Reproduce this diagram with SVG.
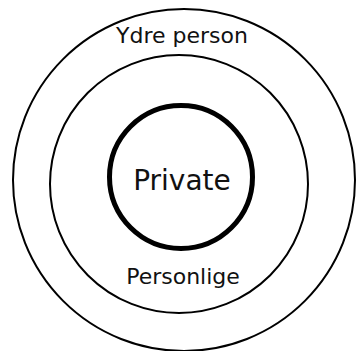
<svg xmlns="http://www.w3.org/2000/svg" width="357" height="351" viewBox="0 0 357 351">
<style>
.ring{fill:none;stroke:#000;stroke-width:2}
.lbl{font-family:"DejaVu Sans",Verdana,sans-serif;fill:#111;text-anchor:middle}
</style>
<rect width="357" height="351" fill="#fff"/>
<text x="150 229 274" y="-8.5" font-family="DejaVu Sans, sans-serif" font-size="33" fill="#777">ggp</text>
<g id="outer">
<circle class="ring" cx="184" cy="180" r="171"/>
<text class="lbl" x="182" y="43" font-size="22">Ydre person</text>
</g>
<g id="middle">
<circle class="ring" cx="179" cy="184" r="129"/>
<text class="lbl" x="183" y="284" font-size="22">Personlige</text>
</g>
<g id="inner">
<circle cx="181" cy="177" r="71.5" fill="none" stroke="#000" stroke-width="5"/>
<text class="lbl" x="182" y="190" font-size="28">Private</text>
</g>
<g id="connectors"/>
</svg>
